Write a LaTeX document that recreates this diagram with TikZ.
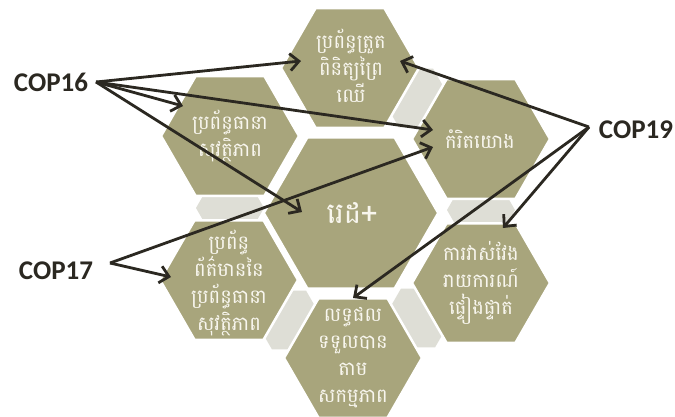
\documentclass[tikz,border=0pt]{standalone}
\usepackage{fontspec}
\setmainfont{Carlito}
\newfontfamily\khmer[Script=Khmer]{Battambang}
\usetikzlibrary{shapes.geometric,arrows.meta}
\definecolor{khaki}{RGB}{168,165,124}
\definecolor{grayhex}{RGB}{222,222,214}
\definecolor{arrowc}{RGB}{43,40,33}
\definecolor{txtc}{RGB}{248,246,238}
\begin{document}
\begin{tikzpicture}[x=1pt,y=-1pt,
  hexbase/.style={regular polygon, regular polygon sides=6, inner sep=0pt, outer sep=0pt},
  hexcenter/.style={hexbase, minimum size=174pt, fill=khaki, draw=white, line width=2pt},
  hexouter/.style={hexbase, minimum size=138pt, fill=khaki, draw=white, line width=2.5pt},
  hexgap/.style={hexbase, minimum size=68pt, fill=grayhex, draw=none},
  khtxt/.style={text=txtc, align=center, inner sep=0pt, font=\khmer\fontsize{19.5}{27}\selectfont},
  khbig/.style={text=txtc, align=center, inner sep=0pt, font=\khmer\fontsize{29}{32}\selectfont},
  copl/.style={text=arrowc, inner sep=0pt, font=\bfseries\fontsize{27}{30}\selectfont},
  arr/.style={draw=arrowc, line width=2.8pt, -{Straight Barb[length=9pt,width=17pt,line width=2.8pt]}}
]
\path[use as bounding box, fill=white] (0,0) rectangle (675,416);

% gray gap hexagons
\node[hexgap] (g1) at (416,98) {};
\node[hexgap] (g2) at (481,210) {};
\node[hexgap] (g3) at (418,318) {};
\node[hexgap] (g4) at (289,320) {};
\node[hexgap] (g5) at (230,208) {};

% outer hexagons
\node[hexouter] (hT)  at (350,68)  {};
\node[hexouter] (hUL) at (230,136) {};
\node[hexouter] (hUR) at (481,139) {};
\node[hexouter] (hLL) at (229,280) {};
\node[hexouter] (hLR) at (481,283) {};
\node[hexouter] (hB)  at (353,358) {};
% center hexagon
\node[hexcenter] (hC) at (351,213) {};

% texts
\node[khtxt] (tT)  at (351,66)  {ប្រព័ន្ធត្រួត\\ពិនិត្យព្រៃ\\ឈើ};
\node[khtxt] (tUL) at (230,136) {ប្រព័ន្ធធានា\\សុវត្ថិភាព};
\node[khtxt] (tUR) at (480,139) {កំរិតយោង};
\node[khtxt] (tLL) at (229,283) {ប្រព័ន្ធ\\ព័ត៌មាននៃ\\ប្រព័ន្ធធានា\\សុវត្ថិភាព};
\node[khtxt] (tLR) at (481,283) {ការវាស់វែង\\រាយការណ៍\\ផ្ទៀងផ្ទាត់};
\node[khtxt] (tB)  at (353,358) {លទ្ធផល\\ទទួលបាន\\តាម\\សកម្មភាព};
\node[khbig] (tC)  at (352,213) {រេដ+};

% COP labels
\node[copl] (cop16) at (51,82)  {COP16};
\node[copl] (cop17) at (56,271) {COP17};
\node[copl] (cop19) at (636,130) {COP19};

\coordinate (s16) at (96,82);
\coordinate (s17) at (110,263);
\coordinate (s19) at (589,127);

\coordinate (e16T)  at (301,61);
\coordinate (e16UL) at (183,106);
\coordinate (e16UR) at (433,130);
\coordinate (e16C)  at (302,212);
\coordinate (e17LL) at (171,277);
\coordinate (e17UR) at (433,147);
\coordinate (e19T)  at (400,61);
\coordinate (e19LR) at (503,228);
\coordinate (e19B)  at (353,298);

\draw[arr] (s16) -- (e16T);
\draw[arr] (s16) -- (e16UL);
\draw[arr] (s16) -- (e16UR);
\draw[arr] (s16) -- (e16C);
\draw[arr] (s17) -- (e17LL);
\draw[arr] (s17) -- (e17UR);
\draw[arr] (s19) -- (e19T);
\draw[arr] (s19) -- (e19LR);
\draw[arr] (s19) -- (e19B);
\end{tikzpicture}
\end{document}
